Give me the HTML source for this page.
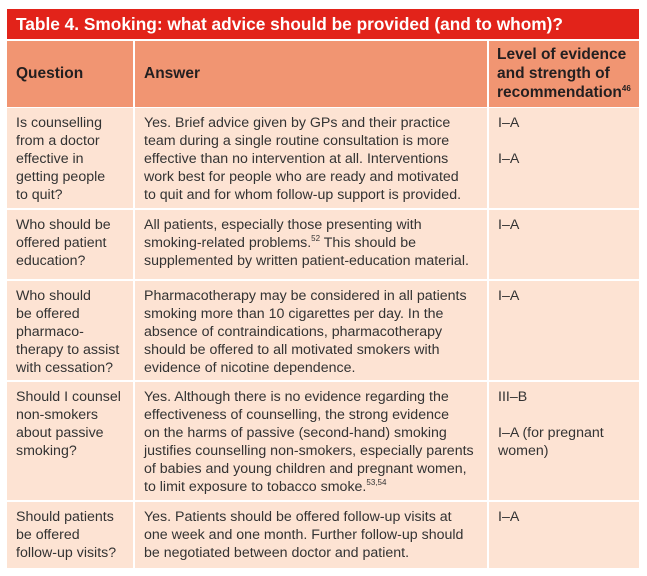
<!DOCTYPE html>
<html><head><style>
body{margin:0;width:647px;height:576px;background:#fff;font-family:"Liberation Sans",sans-serif;position:relative;overflow:hidden}
.a{position:absolute}
.t{left:7px;top:9px;width:632px;height:30px;background:#e2231a;color:#fff;font-weight:bold;font-size:17.3px;line-height:30px;padding-left:9px;box-sizing:border-box}
.h{background:#f19572;color:#231f20;font-weight:bold;font-size:15.5px}
.c{background:#fde3d3;color:#333;font-size:14.2px;line-height:18px;padding:6px 0 0 9px;box-sizing:border-box;white-space:nowrap}
sup{font-size:8px;line-height:0;vertical-align:6px}
</style></head><body>
<div class="a t">Table 4. Smoking: what advice should be provided (and to whom)?</div>
<div class="a h" style="left:7px;top:41px;width:126px;height:66px;line-height:66px;padding-left:9px;box-sizing:border-box">Question</div>
<div class="a h" style="left:135px;top:41px;width:352px;height:66px;line-height:66px;padding-left:9px;box-sizing:border-box">Answer</div>
<div class="a h" style="left:489px;top:41px;width:150px;height:66px;line-height:19px;padding:4px 0 0 8px;box-sizing:border-box">Level of evidence and strength of recommendation<sup>46</sup></div>

<div class="a c" style="left:7px;top:108px;width:126px;height:100px">Is counselling<br>from a doctor<br>effective in<br>getting people<br>to quit?</div>
<div class="a c" style="left:135px;top:108px;width:352px;height:100px">Yes. Brief advice given by GPs and their practice<br>team during a single routine consultation is more<br>effective than no intervention at all. Interventions<br>work best for people who are ready and motivated<br>to quit and for whom follow-up support is provided.</div>
<div class="a c" style="left:489px;top:108px;width:150px;height:100px">I–A<br><br>I–A</div>

<div class="a c" style="left:7px;top:210px;width:126px;height:69px">Who should be<br>offered patient<br>education?</div>
<div class="a c" style="left:135px;top:210px;width:352px;height:69px">All patients, especially those presenting with<br>smoking-related problems.<sup>52</sup> This should be<br>supplemented by written patient-education material.</div>
<div class="a c" style="left:489px;top:210px;width:150px;height:69px">I–A</div>

<div class="a c" style="left:7px;top:281px;width:126px;height:99px">Who should<br>be offered<br>pharmaco-<br>therapy to assist<br>with cessation?</div>
<div class="a c" style="left:135px;top:281px;width:352px;height:99px">Pharmacotherapy may be considered in all patients<br>smoking more than 10 cigarettes per day. In the<br>absence of contraindications, pharmacotherapy<br>should be offered to all motivated smokers with<br>evidence of nicotine dependence.</div>
<div class="a c" style="left:489px;top:281px;width:150px;height:99px">I–A</div>

<div class="a c" style="left:7px;top:382px;width:126px;height:118px">Should I counsel<br>non-smokers<br>about passive<br>smoking?</div>
<div class="a c" style="left:135px;top:382px;width:352px;height:118px">Yes. Although there is no evidence regarding the<br>effectiveness of counselling, the strong evidence<br>on the harms of passive (second-hand) smoking<br>justifies counselling non-smokers, especially parents<br>of babies and young children and pregnant women,<br>to limit exposure to tobacco smoke.<sup>53,54</sup></div>
<div class="a c" style="left:489px;top:382px;width:150px;height:118px">III–B<br><br>I–A (for pregnant<br>women)</div>

<div class="a c" style="left:7px;top:502px;width:126px;height:66px">Should patients<br>be offered<br>follow-up visits?</div>
<div class="a c" style="left:135px;top:502px;width:352px;height:66px">Yes. Patients should be offered follow-up visits at<br>one week and one month. Further follow-up should<br>be negotiated between doctor and patient.</div>
<div class="a c" style="left:489px;top:502px;width:150px;height:66px">I–A</div>
</body></html>
